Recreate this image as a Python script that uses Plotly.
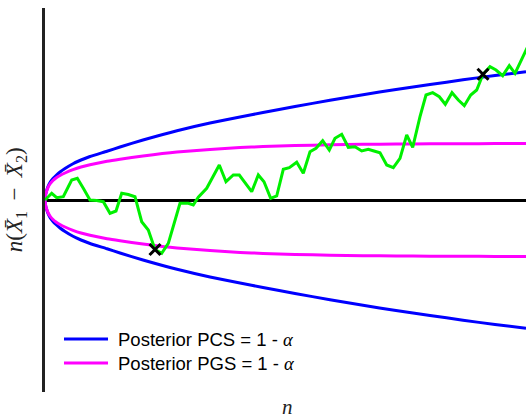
import plotly.graph_objects as go

# Sample size n at which the boundary curves were evaluated
n_bound = [0, 0.5, 1.5, 3, 5, 8, 11, 15, 20, 28, 36, 45, 62, 75, 98, 132, 165, 195, 218,
           250, 285, 318, 351, 385, 418, 450, 481]
# Upper boundary where posterior PCS = 1 - alpha (lower boundary is its mirror)
pcs_upper = [0, 5, 9, 13.5, 17.5, 21.5, 24.5, 28, 31.5, 36.3, 40, 43.5, 48.8, 53, 60, 69.3,
             77, 83, 87.5, 93.5, 99.7, 105.3, 110.5, 115.5, 120.2, 124.5, 128.3]
# Upper boundary where posterior PGS = 1 - alpha (lower boundary is its mirror)
pgs_upper = [0, 4.5, 8.5, 12.5, 16, 19.5, 22, 24.5, 27, 30.3, 33, 35.3, 38.8, 40.8, 44, 48,
             50.6, 52.4, 53.4, 54.4, 55.2, 55.7, 56, 56.2, 56.3, 56.4, 56.5]

# Observed path of n(X1bar - X2bar)
path_n = [0, 6.7, 11.7, 18.3, 26.7, 32.3, 38.3, 45, 51.7, 58.3, 65, 71, 76.7, 83.3, 90,
          96.7, 103.3, 110, 116.7, 123.3, 135, 143.3, 148.3, 153.3, 161.7, 174.3, 181,
          188.3, 194.3, 206.7, 213.3, 219, 225.7, 231.7, 238.3, 244.3, 251.7, 258.3, 265,
          271, 277.7, 284.3, 290, 296.7, 303.3, 310, 316.7, 323.3, 329, 335, 341.7, 348.3,
          355, 361.7, 367.7, 375, 381, 387.7, 394.3, 400.3, 407, 413.3, 419.3, 425.7,
          431.7, 438, 445, 451, 457.7, 464.3, 470, 476.7, 483]
path_val = [0, 6.7, 2.3, 3.3, 20, 21.7, 11.7, 0, -0.5, -1.7, -13.3, -11, 6.7, 5.5, 3.3,
            -21.7, -30, -49.5, -53.3, -43.3, -3.3, -3.3, -5, 2.7, 11.7, 35, 18.3,
            25, 25, 8.3, 25, 18.3, 1.7, 4, 30.7, 32.3, 37.7, 26.7, 48.3,
            51.7, 59.3, 50, 61.7, 65.7, 52.7, 53.3, 49, 50.7, 49, 47.3, 35, 32.3,
            41.7, 65, 52.7, 83.3, 105, 107.3, 103.3, 95.7, 107.3, 100, 94.3, 105,
            110, 125.7, 133.3, 130, 124.3, 134.3, 126.7, 141.7, 154]

# Stopping points where the path first reaches a boundary
stop_n = [110, 438]
stop_val = [-49.5, 125.7]

BLUE = "#0000ff"
MAGENTA = "#ff00ff"
GREEN = "#00f000"

fig = go.Figure()
for sign in (1, -1):
    fig.add_trace(go.Scatter(x=n_bound, y=[sign * v for v in pcs_upper], mode="lines",
                             line=dict(color=BLUE, width=3, shape="spline", smoothing=0.5),
                             showlegend=False, hoverinfo="skip"))
    fig.add_trace(go.Scatter(x=n_bound, y=[sign * v for v in pgs_upper], mode="lines",
                             line=dict(color=MAGENTA, width=3, shape="spline", smoothing=0.5),
                             showlegend=False, hoverinfo="skip"))
fig.add_trace(go.Scatter(x=path_n, y=path_val, mode="lines",
                         line=dict(color=GREEN, width=3), showlegend=False))
fig.add_trace(go.Scatter(x=stop_n, y=stop_val, mode="markers",
                         marker=dict(symbol="x-thin", size=11,
                                     line=dict(width=3, color="black")),
                         showlegend=False))

# Legend drawn as line samples plus labels
legend_items = [("Posterior PCS = 1 - ", BLUE, 0.138), ("Posterior PGS = 1 - ", MAGENTA, 0.0755)]
shapes = []
annotations = []
for label, color, yp in legend_items:
    shapes.append(dict(type="line", xref="paper", yref="paper", x0=0.0395, x1=0.131,
                       y0=yp, y1=yp, line=dict(color=color, width=3)))
    annotations.append(dict(xref="paper", yref="paper", x=0.147, y=yp, xanchor="left",
                            yanchor="middle", showarrow=False,
                            text=label + '<span style="font-family:\'Liberation Serif\'"><i>\u03b1</i></span>',
                            font=dict(family="Liberation Sans", size=18.5, color="black")))

annotations.append(dict(xref="paper", yref="paper", x=-0.06, y=0.5, textangle=-90,
                        showarrow=False, xanchor="center", yanchor="middle",
                        text="<i>n</i>(<i>X\u0304</i><sub>1</sub>\u2009 \u2212 \u2009<i>X\u0304</i><sub>2</sub>)",
                        font=dict(family="Liberation Serif", size=23, color="#222222")))
annotations.append(dict(xref="paper", yref="paper", x=0.505, y=-0.0725, showarrow=False,
                        xanchor="center", yanchor="bottom", text="<i>n</i>", borderpad=0,
                        font=dict(family="Liberation Serif", size=21, color="#222222")))

fig.update_layout(
    width=526, height=420,
    margin=dict(l=45, r=0, t=8, b=28),
    paper_bgcolor="white", plot_bgcolor="white",
    shapes=shapes, annotations=annotations,
    xaxis=dict(range=[0, 481], showgrid=False, zeroline=False, showline=False,
               showticklabels=False, ticks=""),
    yaxis=dict(range=[-192, 192], showgrid=False, zeroline=True, zerolinecolor="black",
               zerolinewidth=3, showline=True, linecolor="#222222", linewidth=3,
               showticklabels=False, ticks=""),
)

fig.write_html("out.html")
